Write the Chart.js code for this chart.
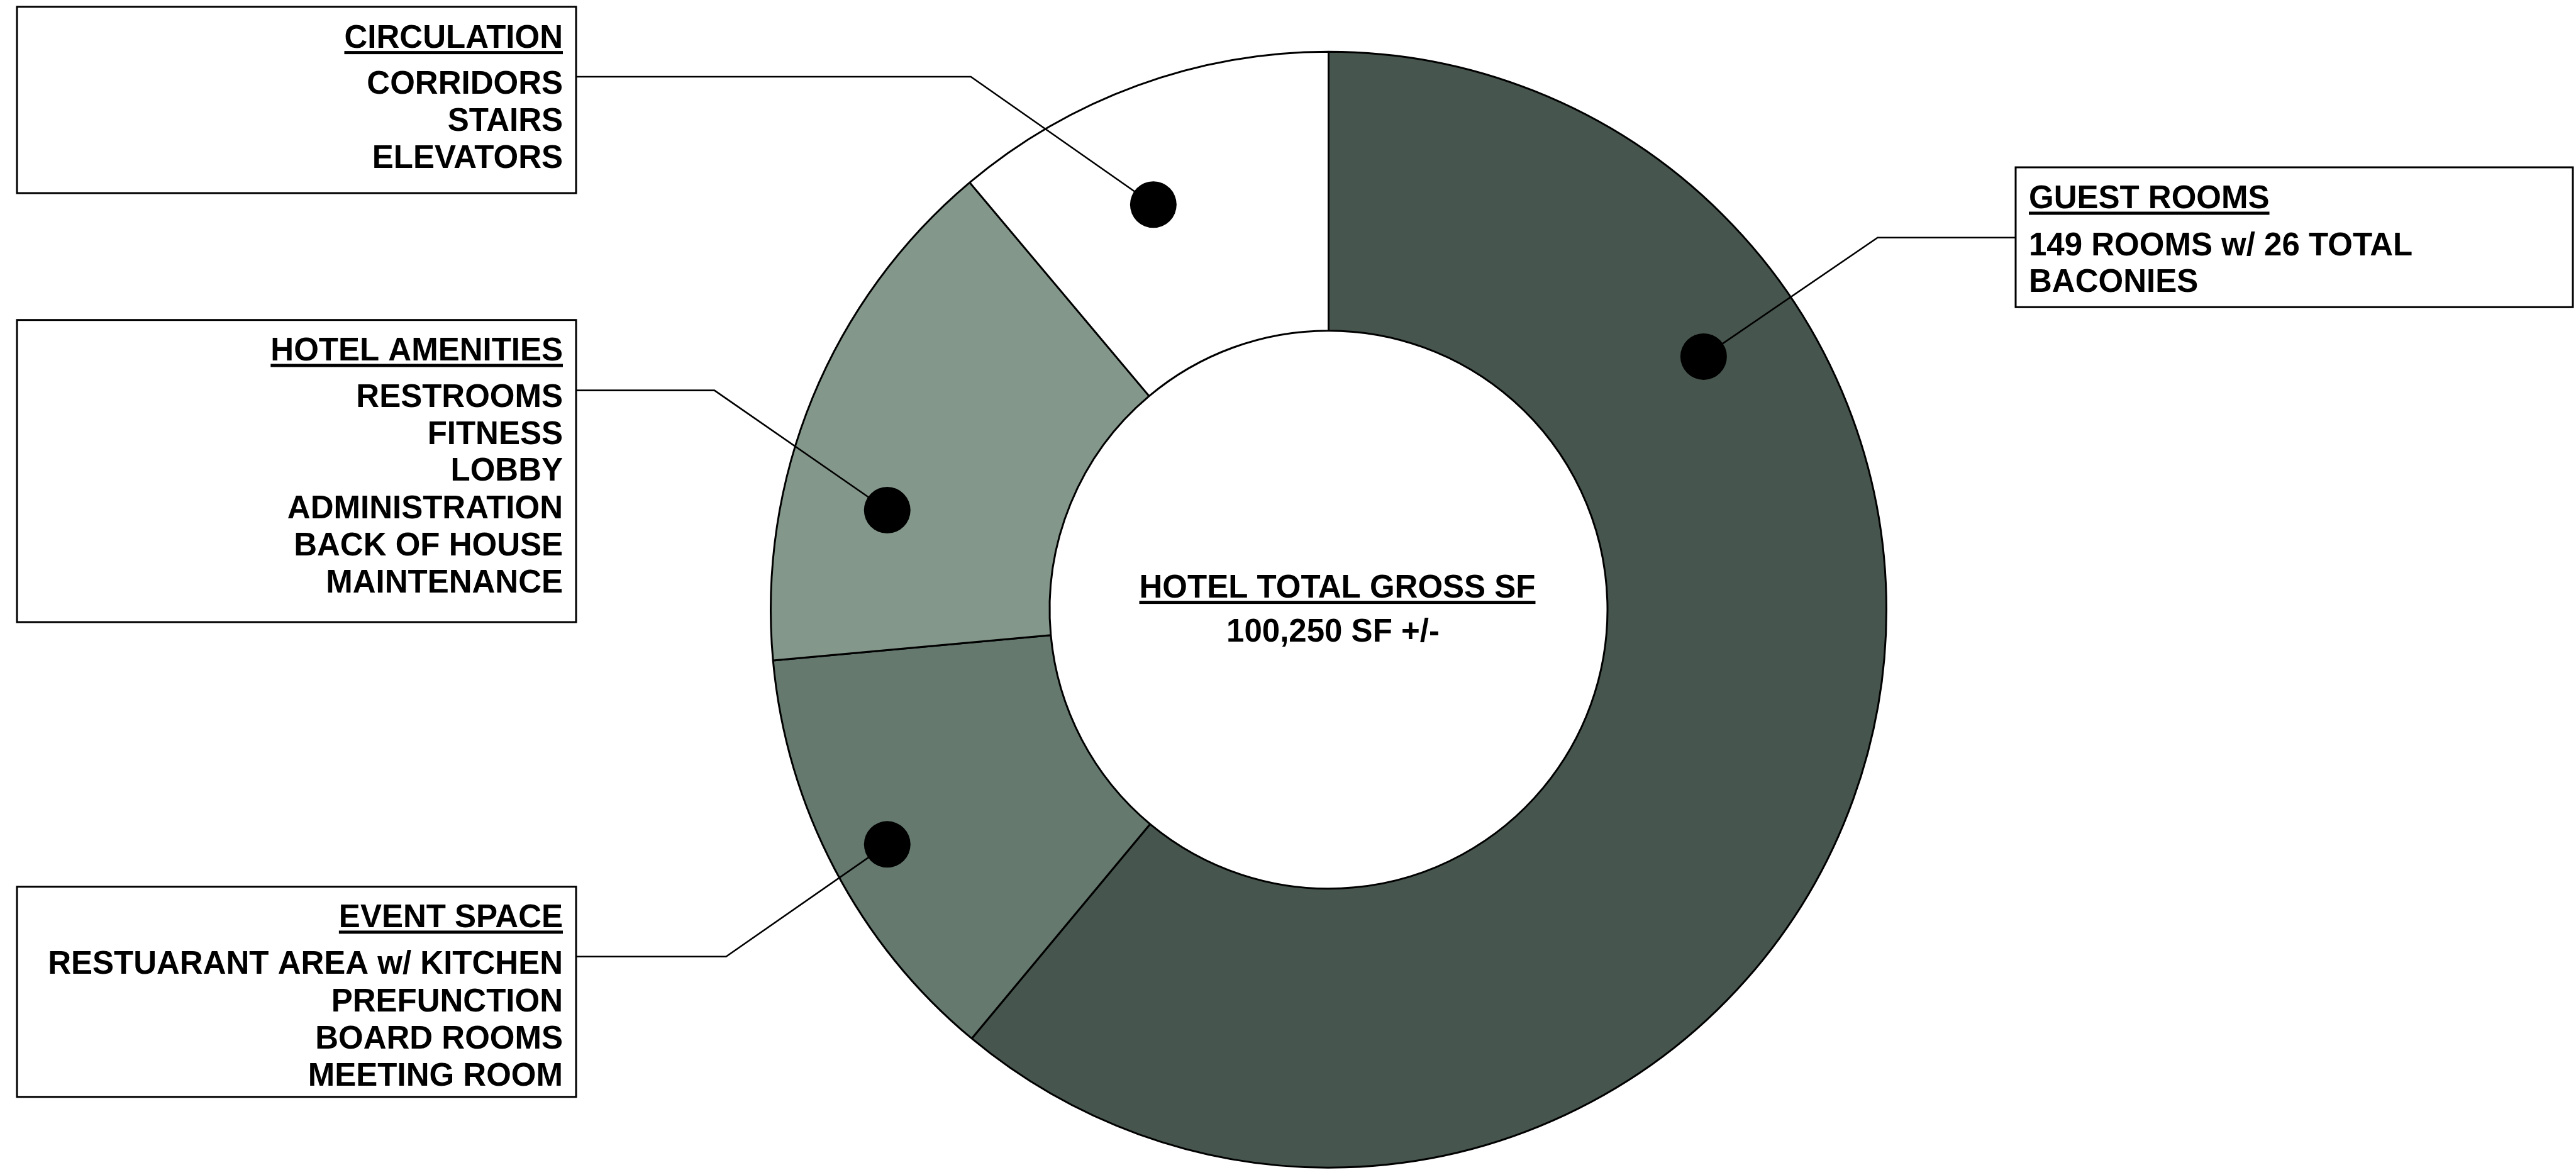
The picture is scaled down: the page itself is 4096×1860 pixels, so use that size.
<!DOCTYPE html>
<html>
<head>
<meta charset="utf-8">
<script src="https://cdn.jsdelivr.net/npm/chart.js@4.4.0/dist/chart.umd.min.js"></script>
<style>
html,body{margin:0;padding:0;background:#ffffff;overflow:hidden}
canvas{display:block}
</style>
</head>
<body>
<canvas id="c" width="4096" height="1860" style="width:4096px;height:1860px"></canvas>
<script>
// ---------- DATA ----------
const categories = ['GUEST ROOMS', 'EVENT SPACE', 'HOTEL AMENITIES', 'CIRCULATION'];
const areaSF = [61200, 12530, 15370, 11150];          // total 100,250 SF
const sliceColors = ['#46554d', '#65796f', '#84978b', '#ffffff'];

const guestLines = ['149 ROOMS w/ 26 TOTAL', 'BACONIES'];
const eventLines = ['RESTUARANT AREA w/ KITCHEN', 'PREFUNCTION', 'BOARD ROOMS', 'MEETING ROOM'];
const amenityLines = ['RESTROOMS', 'FITNESS', 'LOBBY', 'ADMINISTRATION', 'BACK OF HOUSE', 'MAINTENANCE'];
const circulationLines = ['CORRIDORS', 'STAIRS', 'ELEVATORS'];
const detailLines = [guestLines, eventLines, amenityLines, circulationLines];

const centerTitle = 'HOTEL TOTAL GROSS SF';
const centerValue = '100,250 SF +/-';

// ---------- LAYOUT (positions / styles only) ----------
const FONT = 'bold 51px "Liberation Sans", Arial, Helvetica, sans-serif';
const callouts = [
  { dotAngle: 56.0,  dotFrac: 0.811, elbow: [2985.5, 377.8], anchor: [3205, 377.8],
    box: [3205, 266, 4091, 488.3], align: 'left', textX: 3226, titleY: 331, lineYs: [406, 463.9] },
  { dotAngle: 242.0, dotFrac: 0.896, elbow: [1154.5, 1520.7], anchor: [916, 1520.7],
    box: [27, 1409.6, 916, 1743.8], align: 'right', textX: 895, titleY: 1473.9, lineYs: [1548.4, 1607.5, 1666.7, 1725.7] },
  { dotAngle: 282.7, dotFrac: 0.811, elbow: [1136, 620.6], anchor: [916, 620.6],
    box: [27, 508.7, 916, 989], align: 'right', textX: 895, titleY: 573, lineYs: [646.6, 706, 764.4, 824.4, 882.8, 941.9] },
  { dotAngle: 336.6, dotFrac: 0.791, elbow: [1543.7, 122], anchor: [916, 122],
    box: [27, 10.8, 916, 307], align: 'right', textX: 895, titleY: 75.6, lineYs: [149, 208.2, 267.3] }
];

function underlinedText(ctx, text, x, y, align) {
  ctx.textAlign = align;
  ctx.fillText(text, x, y);
  const w = ctx.measureText(text).width;
  let x0 = x;
  if (align === 'right') x0 = x - w;
  else if (align === 'center') x0 = x - w / 2;
  ctx.fillRect(x0, y + 5.5, w, 5);
}

const calloutPlugin = {
  id: 'callouts',
  afterDatasetsDraw(chart) {
    const ctx = chart.ctx;
    const arcs = chart.getDatasetMeta(0).data;
    const cx = arcs[0].x, cy = arcs[0].y, R = arcs[0].outerRadius;
    ctx.save();
    ctx.font = FONT;
    ctx.textBaseline = 'alphabetic';
    callouts.forEach((L, i) => {
      const a = L.dotAngle * Math.PI / 180;
      const px = cx + Math.sin(a) * R * L.dotFrac;
      const py = cy - Math.cos(a) * R * L.dotFrac;
      // leader line
      ctx.beginPath();
      ctx.moveTo(L.anchor[0], L.anchor[1]);
      ctx.lineTo(L.elbow[0], L.elbow[1]);
      ctx.lineTo(px, py);
      ctx.lineWidth = 2.6;
      ctx.strokeStyle = '#000';
      ctx.stroke();
      // dot
      ctx.beginPath();
      ctx.arc(px, py, 37, 0, Math.PI * 2);
      ctx.fillStyle = '#000';
      ctx.fill();
      // box
      const [x0, y0, x1, y1] = L.box;
      ctx.fillStyle = '#fff';
      ctx.fillRect(x0, y0, x1 - x0, y1 - y0);
      ctx.lineWidth = 3;
      ctx.strokeStyle = '#000';
      ctx.strokeRect(x0, y0, x1 - x0, y1 - y0);
      // text
      ctx.fillStyle = '#000';
      underlinedText(ctx, categories[i], L.textX, L.titleY, L.align);
      ctx.textAlign = L.align;
      detailLines[i].forEach((t, k) => ctx.fillText(t, L.textX, L.lineYs[k]));
    });
    // centre label
    underlinedText(ctx, centerTitle, cx + 14, 949.6, 'center');
    ctx.textAlign = 'center';
    ctx.fillText(centerValue, cx + 7, 1020.3);
    ctx.restore();
  }
};

new Chart(document.getElementById('c'), {
  type: 'doughnut',
  data: {
    labels: categories,
    datasets: [{
      data: areaSF,
      backgroundColor: sliceColors,
      borderColor: '#000000',
      borderWidth: 3,
      hoverOffset: 0
    }]
  },
  options: {
    responsive: false,
    devicePixelRatio: 1,
    animation: false,
    events: [],
    cutout: '50%',
    radius: 887,
    rotation: 0,
    layout: { padding: { left: 129, right: 0, top: 78.4, bottom: 0 } },
    plugins: {
      legend: { display: false },
      tooltip: { enabled: false },
      title: { display: false }
    }
  },
  plugins: [calloutPlugin]
});
</script>
</body>
</html>
